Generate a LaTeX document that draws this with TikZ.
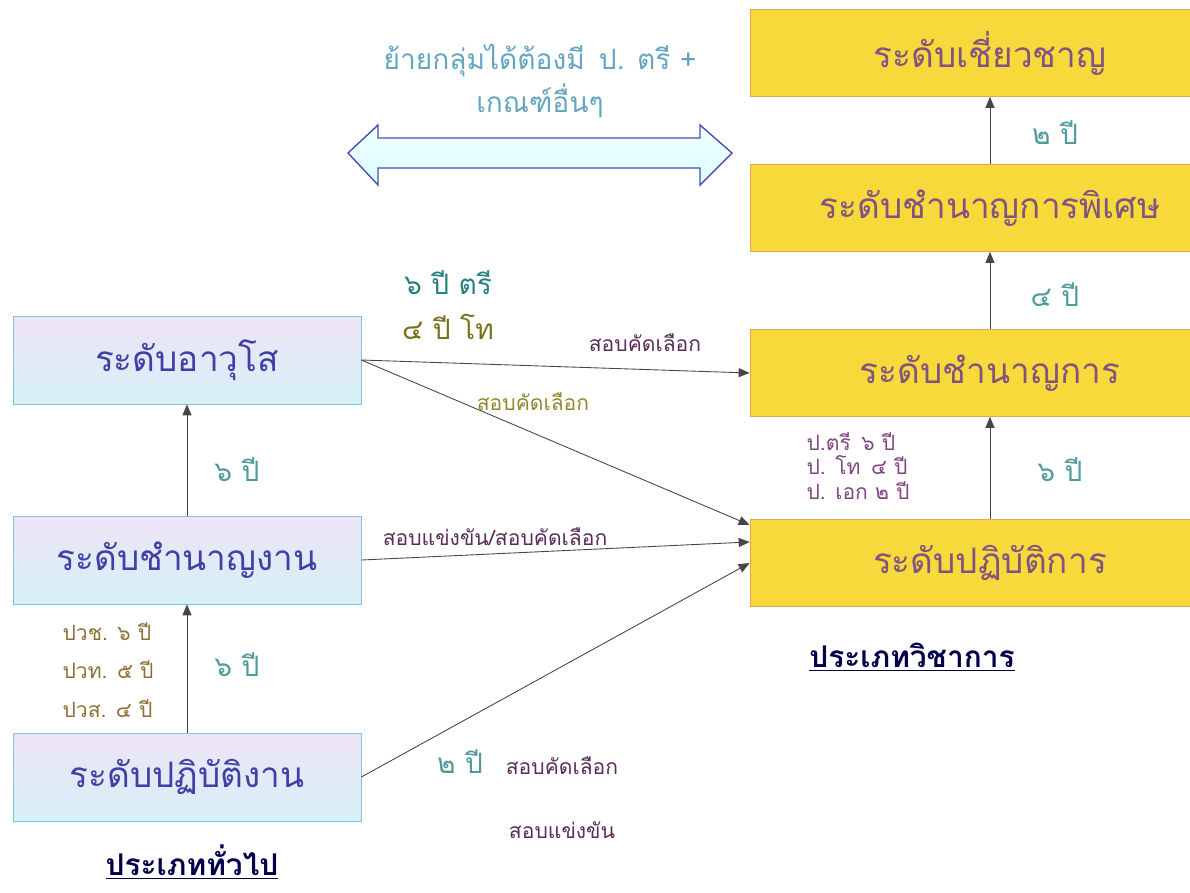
\documentclass[tikz,border=0pt]{standalone}
\usepackage{fontspec}
\newfontfamily\thai[Script=Thai]{Loma}
\usetikzlibrary{positioning,arrows.meta}
\definecolor{lvyellow}{RGB}{247,217,60}
\definecolor{lvedge}{RGB}{232,165,80}
\definecolor{gentop}{RGB}{238,228,246}
\definecolor{genbot}{RGB}{214,240,247}
\definecolor{genedge}{RGB}{125,200,225}
\definecolor{lbl}{RGB}{80,155,155}

\begin{document}
\begin{tikzpicture}[%
  % common options for the academic levels:
  acad/.style = {draw=lvedge, fill=lvyellow, text=violet!35!gray, align=center,
              minimum width=9.6cm, minimum height=1.74cm, inner sep=0,
              font=\thai\fontsize{20}{24}\selectfont},
  % common options for the general levels:
  gen/.style = {draw=genedge, top color=gentop, bottom color=genbot,
              text=blue!45!gray!90!black, align=center, minimum width=6.96cm,
              minimum height=1.76cm, inner sep=0, font=\thai\fontsize{20}{24}\selectfont},
  % small texts on the arrows
  note/.style = {inner sep=0, text=gray!50!violet!70!black,
              font=\thai\fontsize{12}{15}\selectfont},
  years/.style = {inner sep=0, text=lbl, font=\thai\fontsize{16}{19}\selectfont},
  rule/.style = {inner sep=0, align=left, text=violet!50!gray,
              font=\thai\fontsize{12}{15}\selectfont},
  up/.style = {-{Triangle[length=2.2mm,width=1.8mm]}, draw=gray!55!black, line width=0.5pt}]

\useasboundingbox (0,0) rectangle (23.8,-17.86);
\clip (0,0) rectangle (23.8,-17.86);

% academic levels (right column)
\node[acad] (expert) at (19.8,-1.06) {ระดับเชี่ยวชาญ};
\node[acad] (senpro) at (19.8,-4.16) {ระดับชำนาญการพิเศษ};
\node[acad] (pro) at (19.8,-7.46) {ระดับชำนาญการ};
\node[acad] (oper) at (19.8,-11.26) {ระดับปฏิบัติการ};

% general levels (left column)
\node[gen] (senior) at (3.74,-7.2) {ระดับอาวุโส};
\node[gen] (skill) at (3.74,-11.2) {ระดับชำนาญงาน};
\node[gen] (work) at (3.74,-15.54) {ระดับปฏิบัติงาน};

% arrows up the columns
\draw[up] (oper.north) -- (pro.south);
\draw[up] (pro.north) -- (senpro.south);
\draw[up] (senpro.north) -- (expert.south);
\draw[up] (work.north) -- (skill.south);
\draw[up] (skill.north) -- (senior.south);

% years next to the column arrows
\node[years] (y1) at (21.1,-2.66) {๒ ปี};
\node[years] (y2) at (21.1,-5.9) {๔ ปี};
\node[years] (y3) at (21.2,-9.4) {๖ ปี};
\node[years] (y4) at (4.74,-9.4) {๖ ปี};
\node[years] (y5) at (4.74,-13.3) {๖ ปี};

% degree rules next to the arrows
\node[rule,text=violet!45!gray] (degA) at (17.16,-9.32)
   {ป.ตรี\enspace ๖ ปี\\[-1pt] ป. โท\enspace ๔ ปี\\[-1pt] ป. เอก ๒ ปี};
\node[rule,text=olive!60!violet] (degG) at (2.16,-13.4)
   {ปวช. ๖ ปี\\[7pt] ปวท. ๕ ปี\\[7pt] ปวส. ๔ ปี};

% crossing from general to academic
\draw[up] (senior.east) -- (pro.west);
\draw[up] (senior.east) -- (oper.171.5);
\draw[up] (skill.east) -- (oper.175.2);
\draw[up] (work.east) -- (oper.west);

\node[note] (sel1) at (12.9,-6.86) {สอบคัดเลือก};
\node[note,text=olive!70!gray] (sel2) at (10.66,-8.04) {สอบคัดเลือก};
\node[note] (comp1) at (9.9,-10.74) {สอบแข่งขัน/สอบคัดเลือก};
\node[years,text=lbl] (y6) at (9.2,-15.24) {๒ ปี};
\node[note] (sel3) at (11.24,-15.32) {สอบคัดเลือก};
\node[note] (comp2) at (11.24,-16.6) {สอบแข่งขัน};

\node[years,text=teal!70!gray] (t1) at (8.96,-5.66) {๖ ปี ตรี};
\node[years,text=olive!80!black] (t2) at (8.96,-6.54) {๔ ปี โท};

% moving between groups
\node[inner sep=0,align=center,text=cyan!50!gray,font=\thai\fontsize{16}{20}\selectfont]
  (move) at (10.8,-1.62) {ย้ายกลุ่มได้ต้องมี\enspace ป. ตรี +\\[3pt] เกณฑ์อื่นๆ};
\draw[draw=blue!40!gray, line width=0.8pt, top color=cyan!5, bottom color=cyan!15]
  (6.96,-3.06) -- (7.56,-2.5) -- (7.56,-2.76) -- (14.0,-2.76) -- (14.0,-2.5)
  -- (14.64,-3.06) -- (14.0,-3.7) -- (14.0,-3.36) -- (7.56,-3.36) -- (7.56,-3.7) -- cycle;

% group headings
\node[inner sep=0,text=blue!30!black,font=\thai\bfseries\fontsize{17}{20}\selectfont]
  (acadhead) at (18.24,-13.14) {\underline{ประเภทวิชาการ}};
\node[inner sep=0,text=blue!30!black,font=\thai\bfseries\fontsize{17}{20}\selectfont]
  (genhead) at (3.84,-17.24) {\underline{ประเภททั่วไป}};
\end{tikzpicture}
\end{document}
